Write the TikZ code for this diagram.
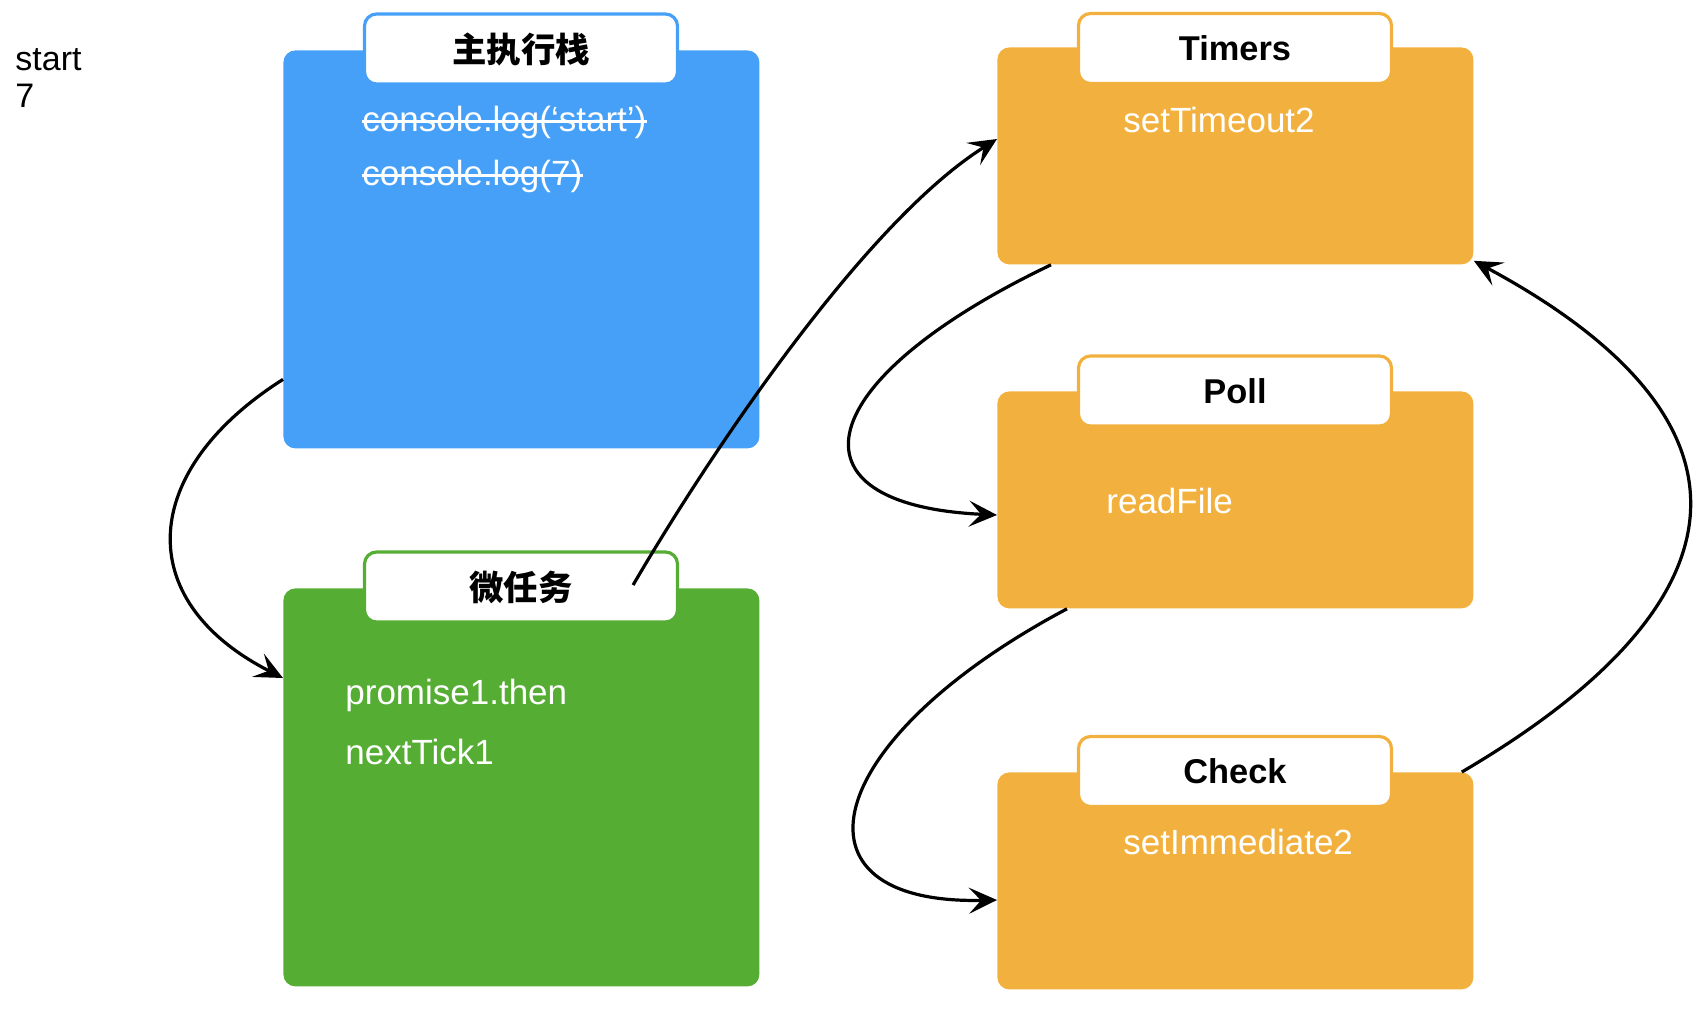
\documentclass[tikz,border=0pt]{standalone}
\usepackage{fontspec}
\setmainfont{Liberation Sans}
\newfontfamily\cjk{Noto Sans CJK SC}
\usetikzlibrary{arrows.meta}
\definecolor{cblue}{RGB}{70,160,247}
\definecolor{cgreen}{RGB}{85,173,52}
\definecolor{corange}{RGB}{242,177,62}
\begin{document}
\begin{tikzpicture}[x=0.5pt,y=-0.5pt,
  box/.style={rounded corners=6pt, minimum width=238pt, inner sep=0pt, anchor=north west, draw=none},
  tab/.style={fill=white, draw=#1, line width=1.6pt, rounded corners=6pt, minimum width=156.5pt, minimum height=35pt, inner sep=0pt, font=\fontsize{17.2}{19}\selectfont\bfseries},
  item/.style={anchor=west, text=white, inner sep=0pt, font=\fontsize{17.5}{20}\selectfont},
  outtext/.style={anchor=west, text=black, inner sep=0pt, font=\fontsize{17}{20}\selectfont},
  strike/.style={draw=white, line width=1.1pt},
  conn/.style={line width=1.6pt, -{Stealth[length=14pt,width=13pt,inset=6pt]}, draw=black}
]
\useasboundingbox (0,0) rectangle (1708,1008);

% main stack
\node[box, fill=cblue, minimum height=199pt] (blue) at (283,50) {};
\node[tab=cblue] (btab) at (521,49) {\cjk\bfseries 主执行栈};
\node[item] (s1) at (362,122) {console.log(‘start’)};
\node[item] (s2) at (362,176) {console.log(7)};
\draw[strike] ([yshift=4.8pt]s1.base west) -- ([yshift=4.8pt]s1.base east);
\draw[strike] ([yshift=4.8pt]s2.base west) -- ([yshift=4.8pt]s2.base east);

% microtasks
\node[box, fill=cgreen, minimum height=199pt] (green) at (283,588) {};
\node[tab=cgreen] (gtab) at (521,587) {\cjk\bfseries 微任务};
\node[item] (m1) at (345,695) {promise1.then};
\node[item] (m2) at (345,752) {nextTick1};

% timers
\node[box, fill=corange, minimum height=108.5pt] (timers) at (997,47) {};
\node[tab=corange] (ttab) at (1235,48.5) {Timers};
\node[item] (t1) at (1123,120) {setTimeout2};

% poll
\node[box, fill=corange, minimum height=108.5pt] (poll) at (997,391) {};
\node[tab=corange] (ptab) at (1235,391) {Poll};
\node[item] (p1) at (1106,501) {readFile};

% check
\node[box, fill=corange, minimum height=108.5pt] (check) at (997,772) {};
\node[tab=corange] (ctab) at (1235,771.5) {Check};
\node[item] (c1) at (1123,842) {setImmediate2};

% output
\node[outtext] (o1) at (15,60) {start};
\node[outtext] (o2) at (15,96) {7};

% connectors
\draw[conn] ([yshift=-65pt]blue.west) .. controls (140,470) and (130,600) .. ([yshift=-45pt]green.north west);
\draw[conn] ([xshift=-23pt,yshift=1pt]gtab.east) .. controls (700,470) and (860,225) .. ([yshift=-46pt]timers.north west);
\draw[conn] ([xshift=27pt]timers.south west) .. controls (810,380) and (780,505) .. ([yshift=-62pt]poll.north west);
\draw[conn] ([xshift=35pt]poll.south west) .. controls (820,740) and (780,905) .. ([yshift=-64pt]check.north west);
\draw[conn] ([xshift=-6pt]check.north east) .. controls (1755,600) and (1770,420) .. ([yshift=2pt]timers.south east);
\end{tikzpicture}
\end{document}
